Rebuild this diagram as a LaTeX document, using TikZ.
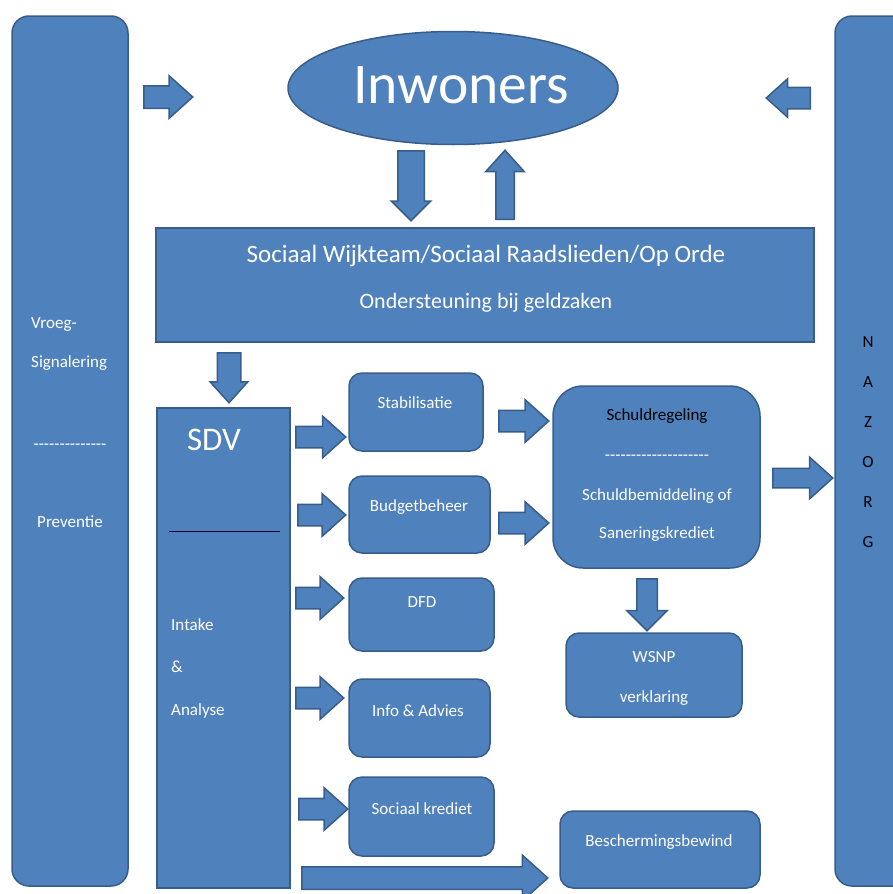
\documentclass[tikz,border=0pt]{standalone}
\usepackage{fontspec}
\newfontfamily\carlito{Carlito}
\usetikzlibrary{shapes.geometric}
\usetikzlibrary{shapes.arrows}

\definecolor{vlak}{HTML}{4F81BD}
\definecolor{rand}{HTML}{385D8A}

\tikzset{
	blok/.style={draw=rand,fill=vlak,line width=1.5pt,inner sep=0pt},
	rblok/.style={blok,rounded corners=13pt},
	pijl/.style={single arrow,draw=rand,fill=vlak,line width=1.5pt,inner xsep=0pt,
		minimum width=0pt,single arrow tip angle=84,anchor=tail},
	tekst/.style={text=white,inner sep=0pt,text height=11pt,text depth=0pt,
		font=\fontsize{17}{20}\selectfont},
	zwart/.style={tekst,text=black}
}

\begin{document}
\carlito
\begin{tikzpicture}[x=1pt,y=-1pt]
	\clip (0,0) rectangle (893,894);
	\useasboundingbox (0,0) rectangle (893,894);

	% zijbalken
	\draw (70,451) node (vroeg) [blok,rounded corners=17pt,minimum width=116pt,minimum height=870pt] {};
	\node [tekst,anchor=west] (vroegA) at (31,323) {Vroeg-};
	\node [tekst,anchor=west] (vroegB) at (31,362) {Signalering};
	\node [tekst] (vroegC) at (70,444) {--------------};
	\node [tekst] (vroegD) at (70,522) {Preventie};

	\draw (893,451) node (nazorg) [blok,rounded corners=17pt,minimum width=116pt,minimum height=870pt] {};
	\node [zwart] (nazN) at (868,342) {N};
	\node [zwart] (nazA) at (868,382) {A};
	\node [zwart] (nazZ) at (868,422) {Z};
	\node [zwart] (nazO) at (868,462) {O};
	\node [zwart] (nazR) at (868,502) {R};
	\node [zwart] (nazG) at (868,542) {G};

	% bovenkant
	\draw (453,88) node (inw) [blok,ellipse,minimum width=330pt,minimum height=113pt] {};
	\node [tekst,text height=37pt,font=\fontsize{57.5}{60}\selectfont] (inwtxt) at (461,85) {Inwoners};

	\draw (485,285) node (wijk) [blok,minimum width=658pt,minimum height=114pt] {};
	\node [tekst,text height=16pt,font=\fontsize{25}{30}\selectfont] (wijkA) at (486,254) {Sociaal Wijkteam/Sociaal Raadslieden/Op Orde};
	\node [tekst,text height=14pt,font=\fontsize{22}{26}\selectfont] (wijkB) at (486,301) {Ondersteuning bij geldzaken};

	% SDV
	\draw (223.5,648) node (sdv) [blok,minimum width=133pt,minimum height=480pt] {};
	\node [tekst,text height=21pt,font=\fontsize{33}{38}\selectfont] (sdvtxt) at (214,440) {SDV};
	\draw [line width=1pt,black!85!blue] (169,531) -- (280,531);
	\node [tekst,anchor=west] (intake) at (171,625) {Intake};
	\node [tekst,anchor=west] (en) at (171,667) {\&};
	\node [tekst,anchor=west] (analyse) at (171,710) {Analyse};

	% trajecten
	\draw (416,412) node (stab) [rblok,minimum width=134pt,minimum height=78pt] {};
	\node [tekst] (stabtxt) at (415,403) {Stabilisatie};
	\draw (419.5,514.5) node (budget) [rblok,minimum width=141pt,minimum height=77pt] {};
	\node [tekst] (budgettxt) at (419,506) {Budgetbeheer};
	\draw (421.5,614.5) node (dfd) [rblok,minimum width=145pt,minimum height=73pt] {};
	\node [tekst] (dfdtxt) at (422,602) {DFD};
	\draw (419.5,718) node (info) [rblok,minimum width=141pt,minimum height=78pt] {};
	\node [tekst] (infotxt) at (418,711) {Info \& Advies};
	\draw (421.5,816.5) node (krediet) [rblok,minimum width=145pt,minimum height=79pt] {};
	\node [tekst] (krediettxt) at (422,809) {Sociaal krediet};

	\draw (656.5,477) node (schuld) [blok,rounded corners=30pt,minimum width=207pt,minimum height=182pt] {};
	\node [zwart] (schuldA) at (657,415) {Schuldregeling};
	\node [tekst] (schuldB) at (657,455) {--------------------};
	\node [tekst] (schuldC) at (657,495) {Schuldbemiddeling of};
	\node [tekst] (schuldD) at (657,533) {Saneringskrediet};

	\draw (654,675) node (wsnp) [rblok,minimum width=176pt,minimum height=84pt] {};
	\node [tekst] (wsnpA) at (654,657) {WSNP};
	\node [tekst] (wsnpB) at (654,697) {verklaring};

	\draw (660,849.5) node (bewind) [rblok,minimum width=200pt,minimum height=77pt] {};
	\node [tekst] (bewindtxt) at (659,841) {Beschermingsbewind};

	% pijlen
	\node (p1) [pijl,minimum height=49pt,single arrow head extend=10pt,inner ysep=10.5pt] at (143,97) {};
	\node (p2) [pijl,rotate=180,minimum height=44pt,single arrow head extend=8.5pt,inner ysep=10pt] at (811,98) {};
	\node (p3) [pijl,rotate=-90,single arrow tip angle=90,minimum height=70pt,single arrow head extend=6.5pt,inner ysep=12.5pt] at (411,150) {};
	\node (p4) [pijl,rotate=90,minimum height=69pt,single arrow head extend=10pt,inner ysep=8.5pt] at (505,220) {};
	\node (p5) [pijl,rotate=-90,minimum height=50pt,single arrow head extend=7pt,inner ysep=11pt] at (229,352) {};
	\node (p6) [pijl,minimum height=50pt,single arrow head extend=10pt,inner ysep=10pt] at (295,437) {};
	\node (p7) [pijl,minimum height=48pt,single arrow head extend=10.5pt,inner ysep=10pt] at (297,515) {};
	\node (p8) [pijl,minimum height=48pt,single arrow head extend=10.5pt,inner ysep=10pt] at (295,598) {};
	\node (p9) [pijl,minimum height=48pt,single arrow head extend=10.5pt,inner ysep=10pt] at (295,698) {};
	\node (p10) [pijl,minimum height=49pt,single arrow head extend=10.5pt,inner ysep=10pt] at (298,809) {};
	\node (p11) [pijl,minimum height=246pt,single arrow head extend=11.5pt,inner ysep=10.5pt] at (301,878) {};
	\node (p12) [pijl,minimum height=50pt,single arrow head extend=10.5pt,inner ysep=10pt] at (498,421) {};
	\node (p13) [pijl,minimum height=50pt,single arrow head extend=10.5pt,inner ysep=10pt] at (498,523) {};
	\node (p14) [pijl,minimum height=60pt,single arrow head extend=11pt,inner ysep=9pt] at (772,478) {};
	\node (p15) [pijl,rotate=-90,single arrow tip angle=90,minimum height=52pt,single arrow head extend=10pt,inner ysep=9.5pt] at (647,578) {};
\end{tikzpicture}
\end{document}
